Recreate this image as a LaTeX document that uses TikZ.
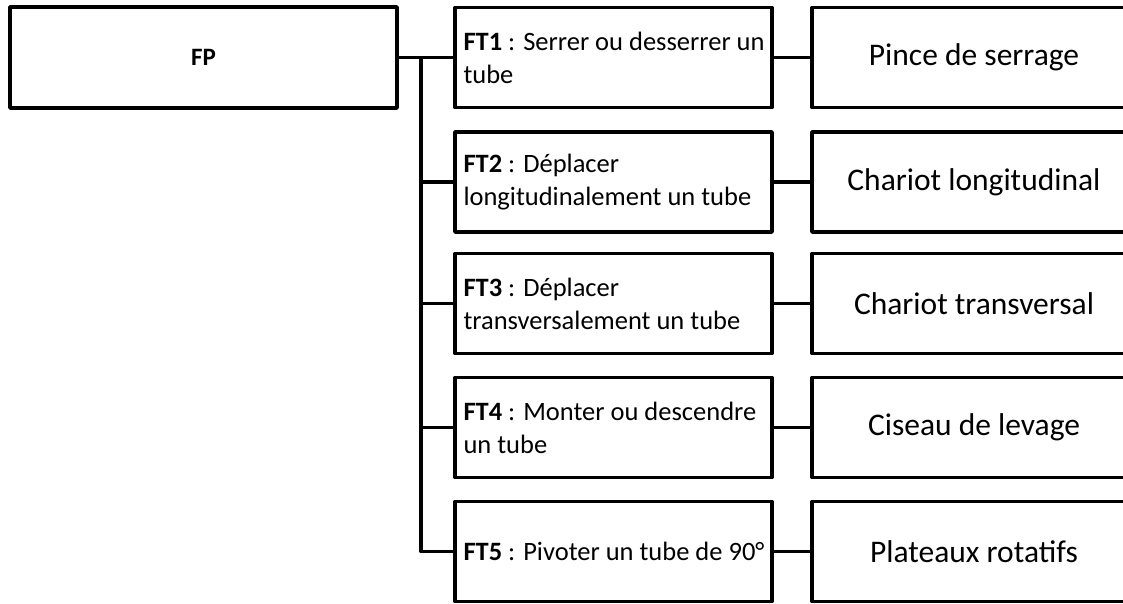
\documentclass[tikz,border=0pt]{standalone}
\usepackage{fontspec}
\setmainfont{Carlito}
\usetikzlibrary{positioning}

\newcommand{\ftline}[1]{\mbox{#1}}

\tikzset{
  boxfp/.style = {draw, line width = 3.5pt, line join = round, minimum width = 387pt, minimum height = 101pt, inner sep = 0pt, font = \fontsize{25}{30}\selectfont},
  boxft/.style = {draw, line width = 3.5pt, line join = round, text width = 300pt, inner xsep = 8.5pt, inner ysep = 0pt, minimum height = 100pt, align = left, execute at begin node = {\spaceskip = 0pt\xspaceskip = 0pt\relax}, font = \fontsize{26.5}{33}\selectfont},
  boxsol/.style = {draw, line width = 3.5pt, line join = round, minimum width = 324pt, minimum height = 100pt, inner sep = 0pt, font = \fontsize{31.5}{38}\selectfont},
  link/.style = {line width = 3.5pt, line join = round}
}

\begin{document}
\begin{tikzpicture}[x = 1pt, y = -1pt]
					\useasboundingbox (0, 0) rectangle (1123, 604);
					\node[boxfp] (fp) at (203.5, 57.5) {\textbf{FP}};
					\node[boxft] (ft1) at (613.5, 57.5) {\ftline{\textbf{FT1} : Serrer ou desserrer un}\\tube};
					\node[boxft] (ft2) at (613.5, 182) {\ftline{\textbf{FT2} : Déplacer}\\\ftline{longitudinalement un tube}};
					\node[boxft] (ft3) at (613.5, 303.5) {\ftline{\textbf{FT3} : Déplacer}\\\ftline{transversalement un tube}};
					\node[boxft] (ft4) at (613.5, 427.5) {\ftline{\textbf{FT4} : Monter ou descendre}\\un tube};
					\node[boxft] (ft5) at (613.5, 551.5) {\ftline{\textbf{FT5} : Pivoter un tube de 90°}};
					\node[boxsol] (sol1) at (974, 57.5) {Pince de serrage};
					\node[boxsol] (sol2) at (974, 182) {Chariot longitudinal};
					\node[boxsol] (sol3) at (974, 303.5) {Chariot transversal};
					\node[boxsol] (sol4) at (974, 427.5) {Ciseau de levage};
					\node[boxsol] (sol5) at (974, 551.5) {Plateaux rotatifs};
					\coordinate (bus) at (421, 57.5);
					\draw[link] (fp.east)--(ft1.west);
					\draw[link] (bus) |- (ft2.west);
					\draw[link] (bus) |- (ft3.west);
					\draw[link] (bus) |- (ft4.west);
					\draw[link] (bus) |- (ft5.west);
					\draw[link] (ft1.east)--(sol1.west);
					\draw[link] (ft2.east)--(sol2.west);
					\draw[link] (ft3.east)--(sol3.west);
					\draw[link] (ft4.east)--(sol4.west);
					\draw[link] (ft5.east)--(sol5.west);
				\end{tikzpicture}
\end{document}
